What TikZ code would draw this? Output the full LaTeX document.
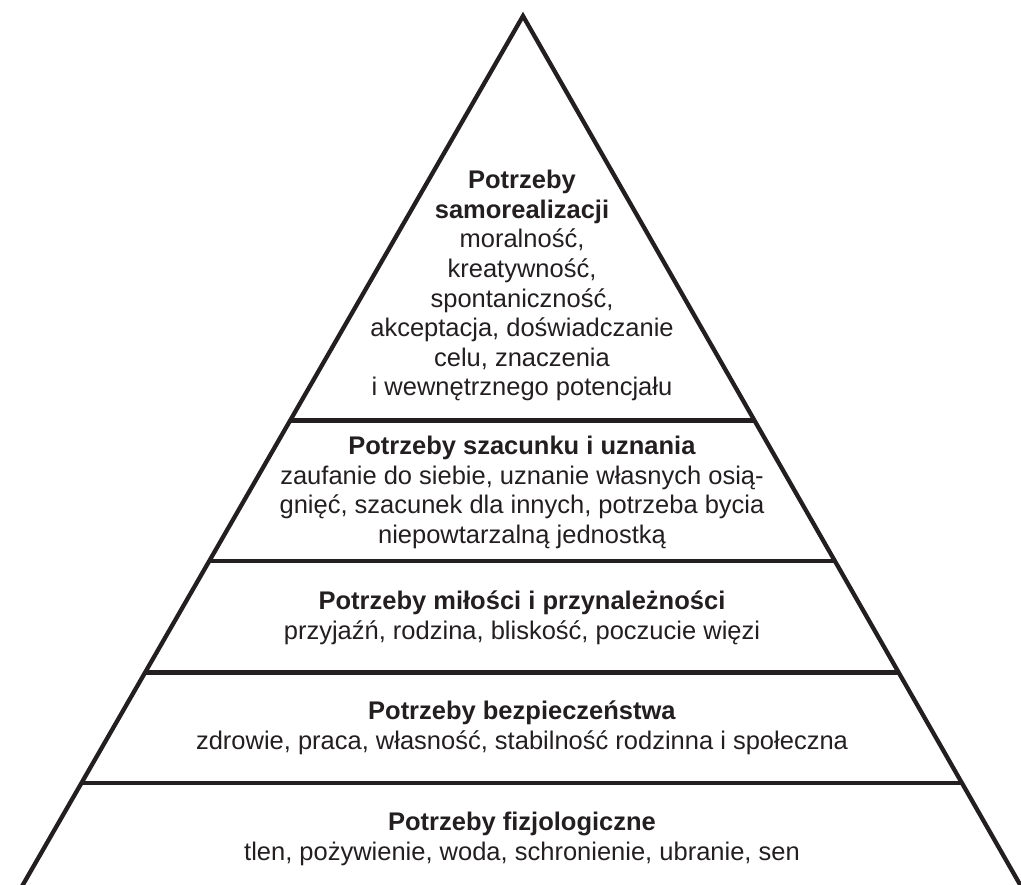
\documentclass[tikz,border=0pt]{standalone}
\usepackage{fontspec}
\setmainfont{Liberation Sans}
\usetikzlibrary{calc}
\definecolor{ink}{HTML}{231F20}
\tikzset{
  edge/.style={draw=ink, line width=4.3pt, line join=miter},
  lvl/.style={align=center, text=ink, inner sep=0pt, font=\fontsize{25.5}{29.6}\selectfont},
}
\begin{document}
\begin{tikzpicture}[x=1pt,y=-1pt]
\useasboundingbox (0,0) rectangle (1021,885);
\clip (0,0) rectangle (1021,885);
\coordinate (apex) at (523,16);
\coordinate (bl) at (17,895);
\coordinate (br) at (1026,895);
\draw[edge] (bl) -- (apex) -- (br);
\foreach \t/\n in {0.4603/a,0.6204/b,0.7468/c,0.8728/d}{
  \coordinate (l\n) at ($(apex)!\t!(bl)$);
  \coordinate (r\n) at ($(apex)!\t!(br)$);
  \draw[edge] (l\n) -- (r\n);
}
\node[lvl, anchor=north] (t1) at (522,170) {\textbf{Potrzeby}\\\textbf{samorealizacji}\\moralność,\\kreatywność,\\spontaniczność,\\akceptacja, doświadczanie\\celu, znaczenia\\i wewnętrznego potencjału};
\node[lvl, anchor=north] (t2) at (522,436) {\textbf{Potrzeby szacunku i uznania}\\zaufanie do siebie, uznanie własnych osią-\\gnięć, szacunek dla innych, potrzeba bycia\\niepowtarzalną jednostką};
\node[lvl, anchor=north] (t3) at (522,591) {\textbf{Potrzeby miłości i przynależności}\\przyjaźń, rodzina, bliskość, poczucie więzi};
\node[lvl, anchor=north] (t4) at (522,701) {\textbf{Potrzeby bezpieczeństwa}\\zdrowie, praca, własność, stabilność rodzinna i społeczna};
\node[lvl, anchor=north] (t5) at (522,812) {\textbf{Potrzeby fizjologiczne}\\tlen, pożywienie, woda, schronienie, ubranie, sen};
\end{tikzpicture}
\end{document}
